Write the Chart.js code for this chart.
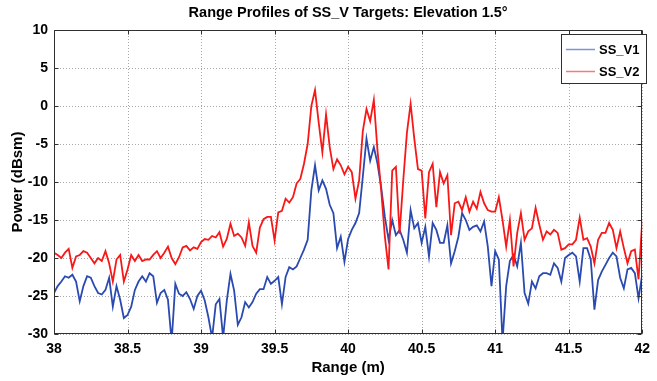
<!DOCTYPE html>
<html>
<head>
<meta charset="utf-8">
<title>Range Profiles</title>
<script src="https://cdn.jsdelivr.net/npm/chart.js@4.4.0/dist/chart.umd.min.js"></script>
<style>
	html, body { margin: 0; padding: 0; background: #fff; }
	canvas { display: block; }
</style>
</head>
<body>
<canvas id="mycanvas" width="657" height="381"></canvas>
<script>
// range samples start at 38 m, one every 25 mm
var rangeStart = 38;
var rangeStep = 0.025;

// power in dBsm, SS_V1 target
var ssV1 = [
	-24.6, -23.7, -23.1, -22.4, -22.6, -22.2, -23.1, -25.7, -23.7, -22.4, -22.6, -23.7, -24.6, -24.8, -24.2, -22.6,
	-26.4, -23.7, -25.5, -27.9, -27.5, -26.4, -24.2, -23.1, -22.4, -23.1, -22.0, -22.4, -25.9, -24.6, -24.2, -25.5,
	-31.0,
	-23.4, -24.7, -25.0, -24.5, -25.4, -26.7, -25.0, -24.3, -25.6, -27.8, -30.5, -26.1, -25.4, -30.5, -25.6, -22.1,
	-24.3, -28.8, -27.8, -25.8, -26.5, -25.8, -24.7, -24.1, -24.1, -22.5, -23.4, -23.0, -22.5, -26.1, -22.5, -21.2,
	-21.5, -21.1, -20.0, -18.9, -17.6, -11.1, -7.8, -11.1, -9.8, -10.9, -13.0, -14.1, -18.7, -17.2, -20.5, -17.5,
	-16.3, -15.4, -14.1, -9.3, -4.3, -7.2, -5.4, -7.6, -10.7, -14.6, -17.6, -15.0, -17.0, -16.3, -17.6, -19.3,
	-13.7, -16.1, -15.4, -18.0, -15.9, -19.8, -15.4, -16.3, -18.0, -18.0, -15.7, -20.7, -19.1, -17.2, -14.1, -15.0,
	-16.3, -15.9, -15.7, -16.5, -15.2, -18.5, -23.7, -19.1, -20.2, -31.0, -23.7, -20.4, -19.6, -21.1, -18.0, -24.6,
	-26.0, -23.1, -24.0, -22.4, -22.0, -22.0, -22.2, -20.7, -21.3, -23.1, -20.0, -19.6, -19.3, -19.8, -23.1, -18.7,
	-18.7, -20.2, -26.8, -22.9, -21.8, -20.9, -20.0, -19.3, -19.8, -22.6, -24.0, -21.5, -21.3, -22.0, -25.3, -22.2
];

// power in dBsm, SS_V2 target
var ssV2 = [
	-19.3, -19.6, -20.0, -19.3, -18.8, -21.3, -19.8, -19.6, -19.1, -19.3, -20.0, -20.7, -20.0, -20.4, -19.1, -20.7,
	-23.1, -20.2, -19.6, -23.1, -21.5, -19.6, -20.4, -19.6, -20.4, -20.2, -20.2, -19.6, -19.1, -20.0, -19.3, -18.5,
	-20.0,
	-20.8, -19.9, -18.6, -18.4, -19.0, -18.6, -18.8, -17.9, -17.5, -17.6, -17.1, -17.3, -16.6, -18.5, -17.5, -15.5,
	-17.1, -16.8, -17.3, -18.4, -15.3, -18.4, -19.3, -16.0, -14.9, -14.6, -14.6, -17.7, -14.0, -13.8, -12.2, -12.7,
	-12.0, -10.2, -9.6, -7.6, -5.0, 0.0, 2.1, -2.2, -6.1, -1.1, -5.4, -8.3, -7.0, -7.8, -9.0, -8.0,
	-8.7, -12.2, -9.8, -3.3, -0.4, -2.0, 0.8, -5.9, -11.1, -17.2, -21.5, -8.5, -8.0, -16.8, -9.8, -3.5,
	0.3, -4.3, -8.3, -8.5, -14.8, -8.7, -7.6, -13.3, -8.7, -10.2, -9.1, -17.0, -12.8, -12.6, -13.7, -12.0,
	-13.9, -12.6, -13.5, -11.3, -12.8, -13.7, -13.9, -13.9, -12.0, -15.0, -18.5, -15.0, -21.1, -16.7, -14.1, -17.6,
	-16.5, -16.1, -13.4, -15.6, -17.6, -16.5, -16.9, -16.3, -16.7, -18.9, -18.7, -18.2, -18.2, -17.6, -14.7, -17.6,
	-17.4, -18.5, -20.7, -17.6, -16.7, -16.7, -15.4, -16.3, -18.7, -16.5, -18.7, -20.7, -19.1, -18.9, -22.8, -15.2
];

var seriesNames = ['SS_V1', 'SS_V2'];
var seriesColors = ['#2a4ab0', '#f81818'];
var legendColors = ['#7f93d6', '#f57a7a'];

var xTicks = [38, 38.5, 39, 39.5, 40, 40.5, 41, 41.5, 42];
var yTicks = [-30, -25, -20, -15, -10, -5, 0, 5, 10];

var range = [];
for (var i = 0; i < ssV1.length; i++) {
	range.push(+(rangeStart + i * rangeStep).toFixed(3));
}

function toPoints(values) {
	var pts = [];
	for (var i = 0; i < values.length; i++) {
		pts.push({x: range[i], y: values[i]});
	}
	return pts;
}

var fontFamily = 'Liberation Sans, Arial, sans-serif';
var tickFont = {family: fontFamily, size: 14, weight: 'bold'};
var axisTitleFont = {family: fontFamily, size: 15, weight: 'bold'};

// dotted grid, black box with inward ticks, title and legend
var matlabFrame = {
	id: 'matlabFrame',
	beforeDatasetsDraw: function(chart) {
		var ctx = chart.ctx, a = chart.chartArea;
		var xs = chart.scales.x, ys = chart.scales.y;
		ctx.save();
		ctx.strokeStyle = '#a8a8a8';
		ctx.lineWidth = 1;
		ctx.setLineDash([1, 2]);
		xTicks.forEach(function(v) {
			var px = Math.round(xs.getPixelForValue(v)) + 0.5;
			ctx.beginPath();
			ctx.moveTo(px, a.top);
			ctx.lineTo(px, a.bottom);
			ctx.stroke();
		});
		yTicks.forEach(function(v) {
			var py = Math.round(ys.getPixelForValue(v)) + 0.5;
			ctx.beginPath();
			ctx.moveTo(a.left, py);
			ctx.lineTo(a.right, py);
			ctx.stroke();
		});
		ctx.restore();
	},
	afterDatasetsDraw: function(chart) {
		var ctx = chart.ctx, a = chart.chartArea;
		var xs = chart.scales.x, ys = chart.scales.y;
		var l = Math.round(a.left) + 0.5, r = Math.round(a.right) - 0.5;
		var t = Math.round(a.top) + 0.5, b = Math.round(a.bottom) - 0.5;
		ctx.save();
		ctx.strokeStyle = '#303030';
		ctx.lineWidth = 1;
		ctx.strokeRect(l, t, r - l, b - t);

		var tl = 4;
		ctx.beginPath();
		xTicks.forEach(function(v) {
			var px = Math.round(xs.getPixelForValue(v)) + 0.5;
			ctx.moveTo(px, b); ctx.lineTo(px, b - tl);
			ctx.moveTo(px, t); ctx.lineTo(px, t + tl);
		});
		yTicks.forEach(function(v) {
			var py = Math.round(ys.getPixelForValue(v)) + 0.5;
			ctx.moveTo(l, py); ctx.lineTo(l + tl, py);
			ctx.moveTo(r, py); ctx.lineTo(r - tl, py);
		});
		ctx.stroke();

		// legend box
		var bx = 561.5, by = 34.5, bw = 85, bh = 49;
		ctx.fillStyle = '#fff';
		ctx.fillRect(bx, by, bw, bh);
		ctx.strokeStyle = '#303030';
		ctx.strokeRect(bx, by, bw, bh);
		ctx.font = 'bold 13px ' + fontFamily;
		ctx.textBaseline = 'middle';
		ctx.textAlign = 'left';
		seriesNames.forEach(function(name, k) {
			var ly = 49.5 + k * 22;
			ctx.strokeStyle = legendColors[k];
			ctx.lineWidth = 1.5;
			ctx.beginPath();
			ctx.moveTo(566, ly);
			ctx.lineTo(595, ly);
			ctx.stroke();
			ctx.fillStyle = '#000';
			ctx.fillText(name, 599, ly + 0.5);
		});

		// title
		ctx.font = 'bold 14.5px ' + fontFamily;
		ctx.textAlign = 'center';
		ctx.fillText('Range Profiles of SS_V Targets: Elevation 1.5\u00b0', (a.left + a.right) / 2, 13);
		ctx.restore();
	}
};

var ctx = document.getElementById('mycanvas');

var chart = new Chart(ctx, {
	type: 'line',
	data: {
		datasets: [
			{
				label: seriesNames[0],
				data: toPoints(ssV1),
				borderColor: seriesColors[0],
				borderWidth: 1.8,
				pointRadius: 0,
				tension: 0,
				order: 2
			},
			{
				label: seriesNames[1],
				data: toPoints(ssV2),
				borderColor: seriesColors[1],
				borderWidth: 1.8,
				pointRadius: 0,
				tension: 0,
				order: 1
			}
		]
	},
	options: {
		responsive: false,
		animation: false,
		layout: {padding: {top: 30, right: 6, left: 0, bottom: 0}},
		plugins: {
			legend: {display: false},
			tooltip: {enabled: false}
		},
		scales: {
			x: {
				type: 'linear',
				min: 38,
				max: 42,
				afterBuildTicks: function(s) { s.ticks = xTicks.map(function(v) { return {value: v}; }); },
				afterFit: function(s) { s.height = 47; },
				grid: {display: false, drawTicks: false},
				border: {display: false},
				ticks: {
					font: tickFont,
					color: '#000',
					padding: 7,
					maxRotation: 0,
					autoSkip: false,
					callback: function(v) { return String(v); }
				},
				title: {display: true, text: 'Range (m)', font: axisTitleFont, color: '#000', padding: {top: 0, bottom: 4}}
			},
			y: {
				min: -30,
				max: 10,
				afterBuildTicks: function(s) { s.ticks = yTicks.map(function(v) { return {value: v}; }); },
				afterFit: function(s) { s.width = 54; },
				grid: {display: false, drawTicks: false},
				border: {display: false},
				ticks: {
					font: tickFont,
					color: '#000',
					padding: 6,
					autoSkip: false,
					callback: function(v) { return String(v); }
				},
				title: {display: true, text: 'Power (dBsm)', font: axisTitleFont, color: '#000', padding: {top: 9, bottom: 0}}
			}
		}
	},
	plugins: [matlabFrame]
});
</script>
</body>
</html>
